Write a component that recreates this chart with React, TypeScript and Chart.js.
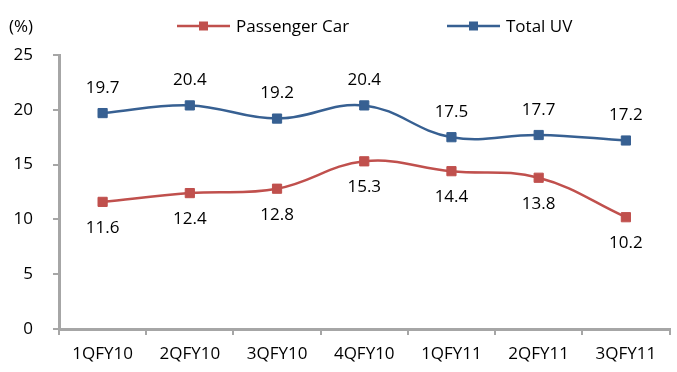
import React, { useEffect, useRef } from "react";
import { Chart, registerables } from "chart.js";

Chart.register(...registerables);

const categories = ["1QFY10", "2QFY10", "3QFY10", "4QFY10", "1QFY11", "2QFY11", "3QFY11"];
const passengerCar = [11.6, 12.4, 12.8, 15.3, 14.4, 13.8, 10.2];
const totalUV = [19.7, 20.4, 19.2, 20.4, 17.5, 17.7, 17.2];
const seriesNames = ["Passenger Car", "Total UV"];
const yTicks = [0, 5, 10, 15, 20, 25];
const yUnit = "(%)";

const FONT = "'Open Sans', sans-serif";
const FS = 17;
const RED = "#c0504d";
const BLUE = "#376092";
const AXIS = "#a6a6a6";

const overlay = {
  id: "overlay",
  afterDatasetsDraw(chart: any) {
    const ctx = chart.ctx;
    ctx.save();
    ctx.font = `${FS}px ${FONT}`;
    ctx.fillStyle = "#000";
    ctx.textAlign = "center";
    ctx.textBaseline = "middle";
    chart.data.datasets.forEach((ds: any, di: number) => {
      const meta = chart.getDatasetMeta(di);
      meta.data.forEach((pt: any, i: number) => {
        const off = di === 0 ? 26 : -25;
        ctx.fillText(ds.data[i].toFixed(1), pt.x, pt.y + off);
      });
    });
    // unit label
    ctx.textAlign = "left";
    ctx.fillText(yUnit, 9, 27);
    // legend
    const items = [
      { name: seriesNames[0], color: RED, x: 177 },
      { name: seriesNames[1], color: BLUE, x: 447 },
    ];
    items.forEach((it) => {
      const y = 26;
      ctx.strokeStyle = it.color;
      ctx.lineWidth = 2.5;
      ctx.beginPath();
      ctx.moveTo(it.x, y);
      ctx.lineTo(it.x + 53, y);
      ctx.stroke();
      ctx.fillStyle = it.color;
      ctx.fillRect(it.x + 26.5 - 4.5, y - 4.5, 9, 9);
      ctx.fillStyle = "#000";
      ctx.textAlign = "left";
      ctx.fillText(it.name, it.x + 59, y + 1);
    });
    ctx.restore();
  },
};

export default function App() {
  const ref = useRef<HTMLCanvasElement>(null);
  useEffect(() => {
    document.body.style.margin = "0";
    const chart = new Chart(ref.current!, {
      type: "line",
      data: {
        labels: categories,
        datasets: [
          {
            label: seriesNames[0],
            data: passengerCar,
            borderColor: RED,
            backgroundColor: RED,
            borderWidth: 2.5,
            pointStyle: "rect",
            pointRadius: 6.5,
            pointBorderWidth: 1,
            tension: 0.4,
          },
          {
            label: seriesNames[1],
            data: totalUV,
            borderColor: BLUE,
            backgroundColor: BLUE,
            borderWidth: 2.5,
            pointStyle: "rect",
            pointRadius: 6.5,
            pointBorderWidth: 1,
            tension: 0.4,
          },
        ],
      },
      options: {
        responsive: false,
        animation: false,
        layout: { padding: { top: 55, left: 0, right: 0, bottom: 0 } },
        plugins: { legend: { display: false }, tooltip: { enabled: false } },
        scales: {
          x: {
            offset: true,
            grid: { offset: true, drawOnChartArea: false, color: AXIS, lineWidth: 2, tickLength: 6 },
            border: { color: AXIS, width: 3 },
            ticks: { font: { family: FONT, size: FS }, color: "#000", padding: 9, maxRotation: 0 },
            afterFit: (s: any) => { s.height = 43; },
          },
          y: {
            min: 0,
            max: 25,
            afterBuildTicks: (s: any) => { s.ticks = yTicks.map((v) => ({ value: v })); },
            grid: { drawOnChartArea: false, color: AXIS, lineWidth: 2, tickLength: 6 },
            border: { color: AXIS, width: 3 },
            ticks: { font: { family: FONT, size: FS }, color: "#000", padding: 20 },
            afterFit: (s: any) => { s.width = 59; },
          },
        },
      },
      plugins: [overlay],
    });
    return () => chart.destroy();
  }, []);
  return (
    <div style={{ width: 677, height: 372 }}>
      <canvas ref={ref} width={677} height={372} style={{ display: "block" }} />
    </div>
  );
}
